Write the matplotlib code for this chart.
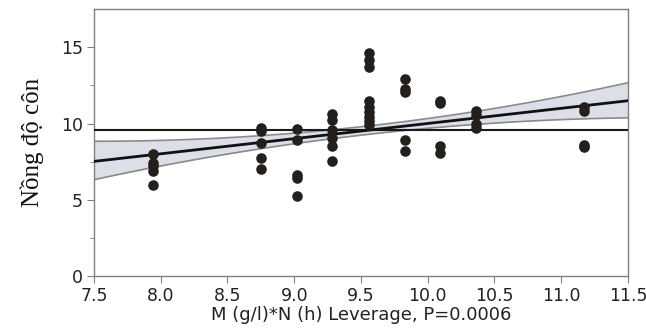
import matplotlib
matplotlib.use("Agg")
import matplotlib.pyplot as plt
import numpy as np

# x levels (leverage) and response values
x_levels = [7.94, 8.75, 9.02, 9.28, 9.56, 9.83, 10.09, 10.36, 11.17]
y_groups = [
    [8.0, 7.4, 7.2, 6.9, 6.0],
    [9.7, 9.5, 8.75, 7.75, 7.05],
    [9.65, 8.95, 6.6, 6.45, 5.25],
    [10.6, 10.25, 9.55, 9.05, 8.5, 7.55],
    [14.65, 14.2, 13.7, 11.45, 11.1, 10.75, 10.45, 10.15, 9.9],
    [12.95, 12.3, 12.1, 8.95, 8.2],
    [11.45, 11.35, 8.5, 8.05],
    [10.8, 10.55, 9.95, 9.7],
    [11.1, 10.8, 8.6, 8.45],
]
mean_y = 9.56
fit_x = [7.5, 11.5]
fit_y = [7.52, 11.5]
band_x = [7.5, 9.56, 11.5]
band_upper = [8.84, 9.85, 12.68]
band_lower = [6.32, 9.3, 10.38]

xticks = [7.5, 8.0, 8.5, 9.0, 9.5, 10.0, 10.5, 11.0, 11.5]
yticks = [0, 5, 10, 15]

fig = plt.figure(figsize=(6.46, 3.32), dpi=100)
ax = fig.add_axes([0.1455, 0.1687, 0.8265, 0.8033])

# confidence band (smooth curve through read values)
bx = np.linspace(7.5, 11.5, 200)
cu = np.polyfit(band_x, band_upper, 2)
cl = np.polyfit(band_x, band_lower, 2)
ax.fill_between(bx, np.polyval(cl, bx), np.polyval(cu, bx), color="#dcdfe8", zorder=1, lw=0)
ax.plot(bx, np.polyval(cu, bx), color="#8a8a8a", lw=1.2, zorder=2)
ax.plot(bx, np.polyval(cl, bx), color="#8a8a8a", lw=1.2, zorder=2)

ax.axhline(mean_y, color="#1a1a1a", lw=1.5, zorder=3)
ax.plot(fit_x, fit_y, color="#111111", lw=2.0, zorder=3)

xs, ys = [], []
for xv, g in zip(x_levels, y_groups):
    for yv in g:
        xs.append(xv)
        ys.append(yv)
ax.scatter(xs, ys, s=58, color="#231f1c", zorder=4, marker="o", linewidths=0)

ax.set_xlim(7.5, 11.5)
ax.set_ylim(0, 17.5)
ax.set_xticks(xticks)
ax.set_xticklabels([f"{t:.1f}" for t in xticks])
ax.set_yticks(yticks)
ax.set_yticks([2.5, 7.5, 12.5], minor=True)
for s in ax.spines.values():
    s.set_color("#808080")
    s.set_linewidth(1.0)
ax.tick_params(axis="both", which="major", length=5, color="#808080", labelsize=12.5,
               labelcolor="#222222", pad=3)
ax.tick_params(axis="y", which="minor", length=3, color="#808080")
for lab in ax.get_xticklabels() + ax.get_yticklabels():
    lab.set_family("DejaVu Sans")

ax.set_xlabel("M (g/l)*N (h) Leverage, P=0.0006", fontsize=13, family="DejaVu Sans",
              color="#222222", labelpad=1)
ax.set_ylabel("Nồng độ côn", fontsize=18, family="Liberation Serif", color="#111111",
              labelpad=12)

fig.savefig("out.png", dpi=100)
